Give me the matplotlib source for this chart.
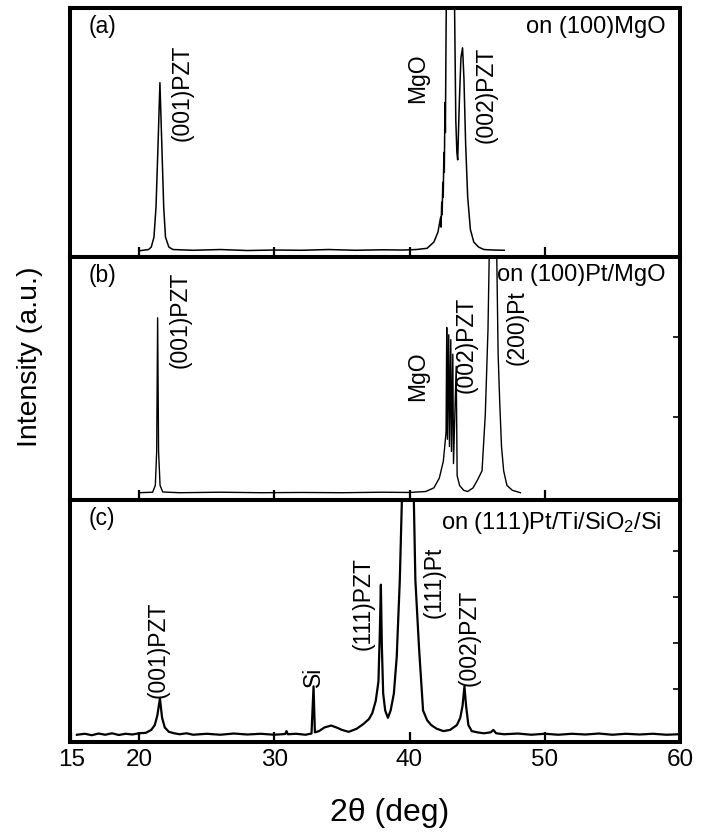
import matplotlib
matplotlib.use('Agg')
import matplotlib.pyplot as plt

plt.rcParams['font.family'] = ['Liberation Sans', 'DejaVu Sans']
plt.rcParams['mathtext.fontset'] = 'custom'
plt.rcParams['mathtext.rm'] = 'Liberation Sans'
plt.rcParams['mathtext.it'] = 'Liberation Sans:italic'

# (a) PZT on (100)MgO
a_theta = [20.0, 20.7, 20.9, 21.1, 21.25, 21.4, 21.54, 21.68, 21.82, 21.95, 22.2, 22.5,
           24.0, 26.0, 28.0, 30.0, 32.0, 34.0, 36.0, 38.0, 39.5, 40.5, 41.3, 41.8,
           42.1, 42.3, 42.33, 42.38, 42.41, 42.46, 42.49, 42.54, 42.57, 42.62, 42.65, 42.7,
           42.72, 43.0, 43.32, 43.42, 43.5, 43.56, 43.68, 43.8, 43.92, 44.02, 44.15, 44.3,
           44.5, 44.75, 45.1, 45.5, 46.2, 47.0]
a_int = [0.025, 0.03, 0.04, 0.08, 0.2, 0.45, 0.70, 0.45, 0.2, 0.08, 0.04, 0.03,
         0.027, 0.03, 0.026, 0.028, 0.027, 0.03, 0.027, 0.029, 0.028, 0.03, 0.035, 0.06,
         0.10, 0.16, 0.12, 0.22, 0.17, 0.30, 0.24, 0.42, 0.34, 0.62, 0.50, 0.90,
         1.05, 3.0, 1.05, 0.55, 0.42, 0.39, 0.62, 0.80, 0.84, 0.72, 0.45, 0.24,
         0.11, 0.06, 0.04, 0.03, 0.028, 0.027]

# (b) PZT on (100)Pt/MgO
b_theta = [20.0, 21.0, 21.2, 21.3, 21.37, 21.44, 21.55, 21.75, 23.0, 26.0, 29.0, 32.0,
           35.0, 38.0, 40.0, 41.2, 41.8, 42.2, 42.5, 42.7, 42.75, 42.8, 42.9, 42.95,
           43.05, 43.1, 43.2, 43.25, 43.45, 43.52, 43.7, 44.0, 44.3, 44.7, 45.0, 45.36,
           45.6, 45.8, 45.95, 46.15, 46.4, 46.55, 46.67, 46.8, 46.96, 47.2, 47.6, 48.2]
b_int = [0.03, 0.032, 0.06, 0.2, 0.75, 0.2, 0.06, 0.033, 0.03, 0.032, 0.03, 0.031,
         0.03, 0.032, 0.031, 0.035, 0.05, 0.09, 0.16, 0.28, 0.71, 0.25, 0.68, 0.22,
         0.66, 0.2, 0.60, 0.15, 0.55, 0.10, 0.06, 0.04, 0.035, 0.05, 0.08, 0.12,
         0.35, 0.7, 1.2, 1.5, 1.2, 0.6, 0.4, 0.22, 0.12, 0.06, 0.04, 0.03]

# (c) PZT on (111)Pt/Ti/SiO2/Si
c_theta = [15.4, 16.0, 16.5, 17.0, 17.5, 18.0, 18.5, 19.0, 19.5, 20.0, 20.5, 20.9,
           21.16, 21.35, 21.54, 21.7, 21.9, 22.2, 22.6, 23.0, 23.5, 24.0, 25.0, 26.0,
           27.0, 28.0, 29.0, 30.0, 30.8, 30.9, 31.0, 31.6, 32.3, 32.75, 32.9, 33.0,
           33.3, 33.7, 34.2, 34.6, 35.0, 35.5, 36.1, 36.6, 37.0, 37.25, 37.5, 37.7,
           37.8, 37.88, 37.95, 38.05, 38.2, 38.4, 38.6, 38.84, 39.05, 39.28, 39.48, 39.7,
           39.9, 40.1, 40.3, 40.43, 40.7, 41.0, 41.3, 41.6, 42.0, 42.5, 43.0, 43.5,
           43.75, 43.92, 44.06, 44.18, 44.35, 44.6, 45.0, 45.5, 46.0, 46.2, 46.4, 47.0,
           48.0, 49.0, 50.0, 51.0, 52.0, 53.0, 54.0, 55.0, 56.0, 57.0, 58.0, 59.0, 59.9]
c_int = [0.03, 0.034, 0.028, 0.035, 0.03, 0.036, 0.029, 0.034, 0.031, 0.036, 0.038, 0.05,
         0.07, 0.11, 0.18, 0.10, 0.06, 0.042, 0.036, 0.032, 0.036, 0.03, 0.034, 0.03,
         0.035, 0.031, 0.034, 0.03, 0.033, 0.045, 0.032, 0.034, 0.03, 0.035, 0.23, 0.04,
         0.045, 0.06, 0.068, 0.06, 0.05, 0.042, 0.055, 0.075, 0.095, 0.12, 0.17, 0.25,
         0.45, 0.65, 0.4, 0.2, 0.13, 0.10, 0.13, 0.20, 0.35, 0.67, 1.1, 1.8,
         2.0, 1.7, 1.05, 0.67, 0.39, 0.13, 0.09, 0.07, 0.055, 0.045, 0.05, 0.07,
         0.10, 0.15, 0.23, 0.15, 0.07, 0.045, 0.04, 0.036, 0.04, 0.05, 0.036, 0.032,
         0.035, 0.03, 0.034, 0.03, 0.034, 0.031, 0.035, 0.03, 0.034, 0.031, 0.034, 0.03, 0.032]

panel_tags = ['(a)', '(b)', '(c)']
substrates = ['on (100)MgO', 'on (100)Pt/MgO', r'on (111)Pt/Ti/SiO$_2$/Si']
a_peaks = ['(001)PZT', 'MgO', '(002)PZT']
b_peaks = ['(001)PZT', 'MgO', '(002)PZT', '(200)Pt']
c_peaks = ['(001)PZT', 'Si', '(111)PZT', '(111)Pt', '(002)PZT']
x_ticks = [15, 20, 30, 40, 50, 60]

W, H = 703, 834
fig = plt.figure(figsize=(W / 100, H / 100), dpi=100)
left, right = 70, 680
bounds = [(8, 257), (257, 500), (500, 742)]
data = [(a_theta, a_int), (b_theta, b_int), (c_theta, c_int)]
lws = [1.1, 1.0, 1.6]

axes = []
for (top, bot), (th, it), lw in zip(bounds, data, lws):
    ax = fig.add_axes([left / W, 1 - bot / H, (right - left) / W, (bot - top) / H])
    ax.plot(th, it, color='black', lw=lw)
    ax.set_xlim(14.89, 60)
    ax.set_ylim(0, 1)
    for s in ax.spines.values():
        s.set_linewidth(2.9)
    ax.tick_params(axis='x', direction='in', length=7, width=1.6, labelbottom=False)
    ax.set_xticks([20, 30, 40, 50])
    ax.yaxis.tick_right()
    ax.tick_params(axis='y', direction='in', length=5, width=1.2, labelright=False)
    axes.append(ax)

axes[0].set_yticks([])
axes[1].set_yticks([0.34, 0.67])
axes[2].set_yticks([0.22, 0.41, 0.60, 0.79])
axes[2].set_xticks(x_ticks)
axes[2].tick_params(axis='x', labelbottom=True, labelsize=17.5, pad=5)

for ax, tag in zip(axes, panel_tags):
    ax.text(0.03, 0.925, tag, transform=ax.transAxes,
            fontsize=16.5, ha='left', va='center')

axes[0].text(0.977, 0.925, substrates[0], transform=axes[0].transAxes,
             fontsize=17, ha='right', va='center')
axes[1].text(0.70, 0.925, substrates[1], transform=axes[1].transAxes,
             fontsize=17, ha='left', va='center')
axes[2].text(0.970, 0.905, substrates[2], transform=axes[2].transAxes,
             fontsize=17, ha='right', va='center')

ann = dict(rotation=90, ha='center', va='center', fontsize=16.5)
for txt, x, y in zip(a_peaks, [23.19, 40.63, 45.68], [0.66, 0.72, 0.65]):
    axes[0].text(x, y, txt, **ann)
for txt, x, y in zip(b_peaks, [23.07, 40.63, 44.2, 47.94], [0.74, 0.51, 0.64, 0.71]):
    axes[1].text(x, y, txt, **ann)
for txt, x, y in zip(c_peaks, [21.42, 32.9, 36.55, 41.85, 44.37],
                     [0.38, 0.27, 0.57, 0.66, 0.43]):
    axes[2].text(x, y, txt, **ann)

fig.text(30 / W, 1 - 357 / H, 'Intensity (a.u.)', rotation=90, fontsize=20.5,
         ha='center', va='center')
fig.text(390 / W, 1 - 813 / H, '2θ (deg)', fontsize=23, ha='center', va='center')

fig.savefig('out.png', dpi=100)
